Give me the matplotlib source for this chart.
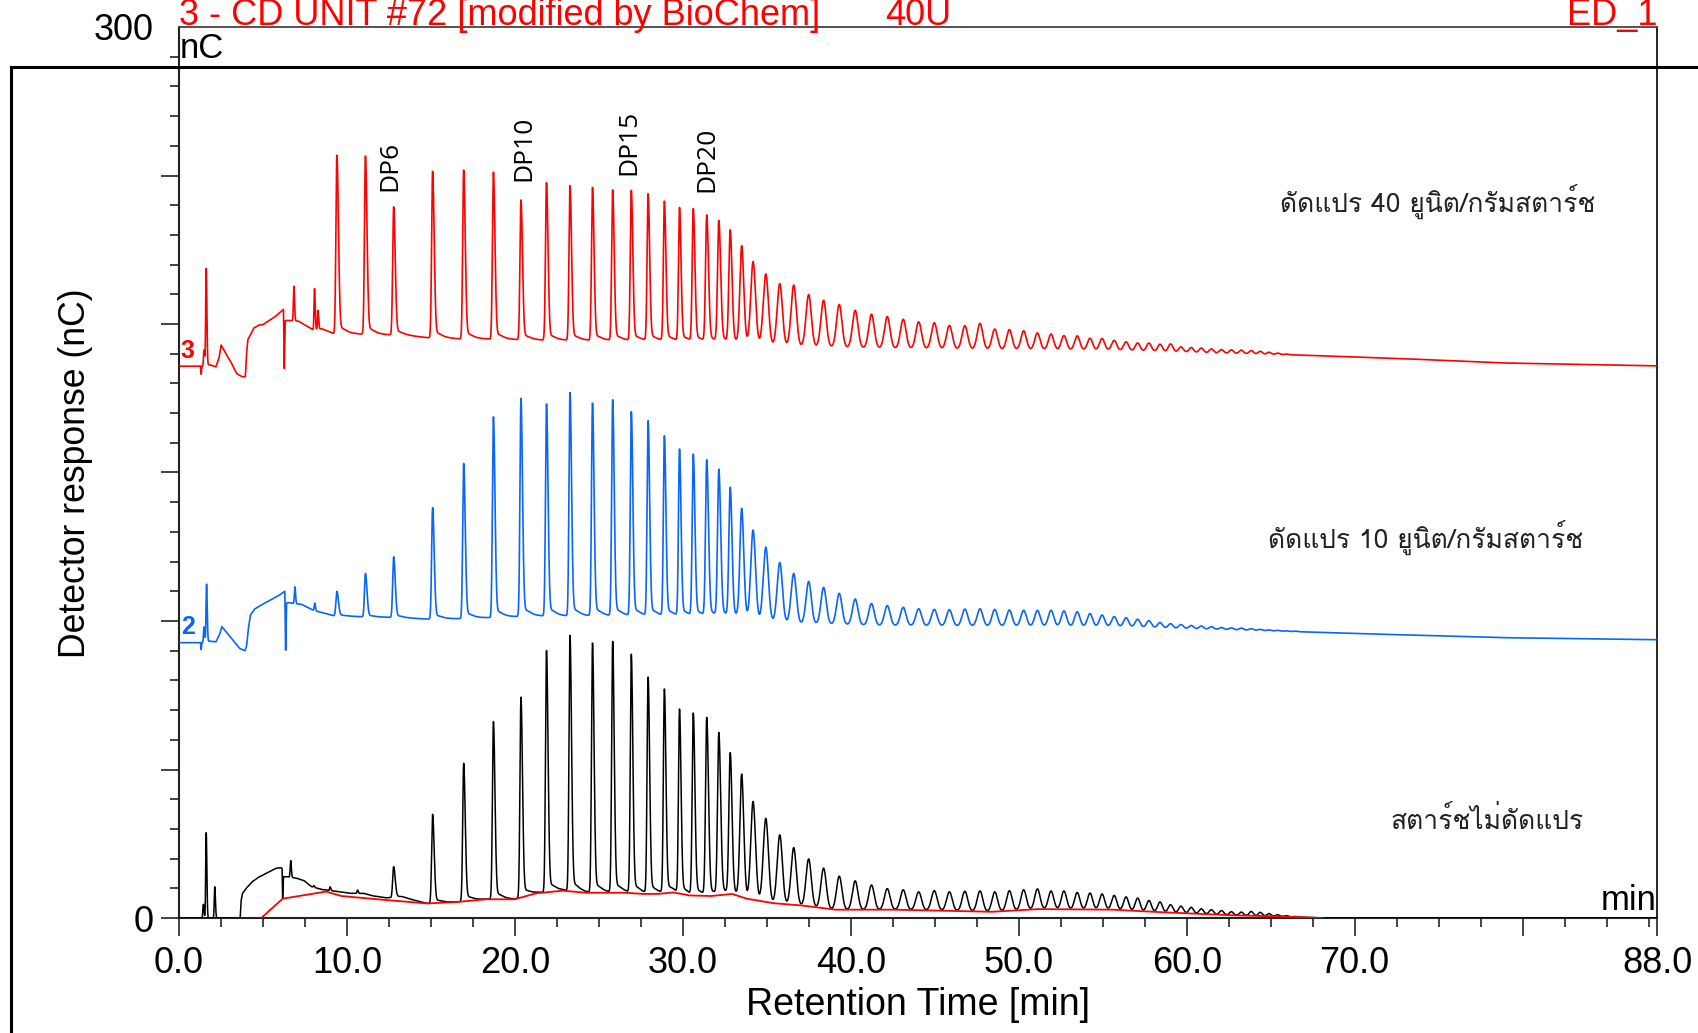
import numpy as np
import matplotlib
matplotlib.use('Agg')
import matplotlib.pyplot as plt
from matplotlib import font_manager
from matplotlib.ft2font import FT2Font
from matplotlib.lines import Line2D
from matplotlib.ticker import FixedLocator, MultipleLocator

plt.rcParams['font.family'] = ['Liberation Sans', 'DejaVu Sans']

# retention times of the DP series (min), shared by all three runs
DP_RT = [9.40, 11.10, 12.78, 15.10, 16.95, 18.72, 20.36, 21.88, 23.28, 24.62,
         25.82, 26.93, 27.93, 28.90, 29.80, 30.62, 31.42, 32.14, 32.82, 33.50,
         34.18, 34.94, 35.77, 36.60, 37.49, 38.38, 39.31, 40.26, 41.23, 42.17,
         43.12, 44.04, 44.97, 45.87, 46.79, 47.69, 48.57, 49.44, 50.29, 51.11,
         51.92, 52.69, 53.48, 54.24, 54.96, 55.68, 56.39, 57.08, 57.75, 58.41,
         59.04, 59.66, 60.27, 60.87, 61.47, 62.07, 62.66, 63.25, 63.84, 64.38,
         64.90, 65.42, 65.94, 66.45]

# apex values (nC) of the DP peaks, nan = no peak
NATIVE_DP = [np.nan, np.nan, 17.3, 34.9, 52.1, 66.1, 74.3, 90.0, 95.0, 92.4,
             92.9, 88.5, 80.7, 76.7, 69.9, 68.5, 67.0, 61.8, 55.0, 48.0,
             39.0, 33.5, 28.0, 23.7, 19.9, 16.8, 14.1, 12.5, 11.1, 9.9,
             9.5, 8.8, 9.2, 8.8, 9.0, 9.1, 8.8, 9.2, 9.5, 9.8,
             9.1, 9.1, 8.6, 8.4, 8.1, 7.6, 7.1, 6.7, 5.9, 5.4,
             4.5, 4.0, 3.6, 3.1, 2.8, 2.5, 2.1, 2.0, 2.2, 1.9,
             1.5, 1.1, 0.8, 0.5]
U10_DP = [110.0, 116.0, 121.6, 138.2, 153.0, 168.7, 174.9, 173.0, 176.8, 173.2,
          174.3, 170.2, 167.1, 162.0, 157.5, 155.7, 153.8, 150.5, 144.4, 137.5,
          130.4, 124.8, 119.7, 116.0, 113.3, 111.3, 109.3, 107.4, 105.9, 105.2,
          104.6, 104.1, 103.9, 103.8, 104.0, 104.1, 103.9, 103.7, 103.6, 103.6,
          103.6, 103.4, 103.1, 102.5, 102.0, 101.5, 101.1, 100.6, 100.1, 99.5,
          99.1, 98.8, 98.5, 98.3, 98.1, 97.8, 97.7, 97.6, 97.4, 97.2,
          97.0, 96.85, 96.7, 96.6]
U40_DP = [256.8, 256.5, 239.4, 251.4, 251.8, 251.1, 241.7, 247.5, 246.5, 245.9,
          245.0, 244.8, 243.6, 241.1, 238.9, 238.5, 236.3, 234.4, 231.2, 226.0,
          220.8, 216.8, 213.6, 213.1, 209.9, 208.0, 206.6, 204.6, 203.3, 202.5,
          201.6, 200.7, 200.4, 199.5, 199.4, 200.2, 198.3, 198.1, 197.7, 197.0,
          196.6, 196.1, 196.0, 195.2, 195.1, 194.5, 194.0, 193.6, 193.6, 193.2,
          193.3, 192.3, 192.1, 191.9, 191.6, 191.4, 191.3, 191.2, 191.1, 190.8,
          190.5, 190.2, 189.9, 189.6]

# early narrow peaks (time, apex)
NATIVE_SPIKE_T = [1.45, 1.62, 2.13, 6.65, 8.04, 9.00, 10.63]
NATIVE_SPIKE_V = [4.6, 28.7, 10.5, 19.3, 10.9, 10.5, 9.4]
U10_SPIKE_T = [1.49, 1.64, 6.90, 8.08]
U10_SPIKE_V = [98.0, 112.4, 111.5, 106.0]
U40_SPIKE_T = [1.49, 1.62, 6.84, 8.07, 8.28]
U40_SPIKE_V = [191.2, 218.7, 212.7, 211.9, 204.6]

# baselines (time, nC)
NATIVE_BASE_T = [0, 3.64, 3.70, 3.78, 4.0, 4.36, 4.7, 5.1, 5.5, 5.8, 6.1, 6.14, 6.17,
                 6.22, 6.45, 7.0, 7.44, 7.87, 8.5, 9.35, 10.2, 11.0, 11.5, 12.3, 13.3,
                 14.0, 14.78, 16.58, 18.28, 19.98, 21.26, 22.85, 24.23, 26.57, 27.64,
                 28.49, 29.44, 30.4, 31.67, 32.93, 33.8, 35.38, 37.1, 39.1, 42.6, 48.4,
                 51.2, 55.6, 58.7, 62.8, 65.1, 68.1, 88]
NATIVE_BASE_V = [0, 0, 6.0, 8.3, 10.0, 12.2, 13.6, 14.8, 15.9, 16.8, 16.9, 16.5, 6.6,
                 13.9, 13.9, 13.4, 12.6, 10.6, 9.6, 9.0, 8.3, 8.3, 7.5, 6.8, 7.0,
                 6.0, 4.9, 5.4, 6.3, 6.3, 8.3, 9.2, 8.5, 8.5, 8.1,
                 8.1, 8.6, 7.6, 7.4, 8.1, 6.5, 5.0, 4.2, 2.8, 2.8, 2.1,
                 3.0, 2.8, 1.9, 0.9, 0.6, 0, 0]
U10_BASE_T = [0, 1.28, 1.32, 1.36, 1.8, 2.2, 2.42, 2.55, 2.75, 3.0, 3.3, 3.6, 3.93,
              4.02, 4.12, 4.25, 4.5, 4.78, 5.53, 6.0, 6.3, 6.35, 6.4, 6.45, 7.3, 8.0,
              9.2, 11.0, 12.7, 15.0, 17.0, 19.0, 21.0, 24.0, 28.0, 31.0, 33.5, 34.3,
              37.0, 41.6, 46.0, 52.0, 56.5, 59.5, 64.0, 65.5, 70.0, 78.7, 88.0]
U10_BASE_V = [92.7, 92.7, 90.4, 92.7, 93.2, 93.0, 95.5, 98.1, 96.8, 95.0, 93.0, 90.8, 90.0,
              91.5, 97.0, 102.0, 104.0, 105.0, 107.3, 108.8, 110.0, 90.2, 106.0, 106.2, 105.6, 103.6,
              101.8, 101.4, 101.2, 100.6, 100.8, 101.2, 101.6, 101.6, 101.6, 101.5, 101.4, 100.3,
              99.2, 98.5, 98.3, 98.3, 98.1, 97.5, 96.9, 96.6, 95.8, 94.4, 93.7]
U40_BASE_T = [0, 1.28, 1.32, 1.36, 1.8, 2.2, 2.38, 2.51, 2.79, 3.08, 3.43, 3.77, 3.95,
              4.02, 4.1, 4.45, 4.75, 5.0, 5.71, 6.22, 6.27, 6.32, 6.4, 7.1, 8.0, 8.5,
              9.2, 11.0, 12.5, 13.7, 14.8, 16.6, 18.5, 20.0, 22.0, 26.0, 30.0, 33.5,
              35.4, 38.4, 43.0, 49.1, 55.2, 61.2, 65.8, 68.0, 73.0, 78.7, 88.0]
U40_BASE_V = [185.8, 185.8, 183.1, 185.8, 186.3, 185.6, 188.5, 192.9, 190.0, 187.3, 183.3, 182.2, 182.3,
              190.0, 194.7, 198.6, 199.6, 199.8, 202.4, 204.9, 185.0, 201.0, 201.2, 201.0, 198.0, 198.4,
              196.8, 196.5, 196.3, 196.0, 195.4, 195.0, 194.9, 194.7, 194.5, 194.4, 194.2, 193.8,
              192.9, 192.3, 191.7, 191.4, 191.2, 190.3, 189.7, 189.3, 188.3, 186.9, 185.9]

# integration baseline drawn under the native starch run
INTEG_T = [4.9, 6.17, 8.76, 9.67, 12.22, 14.78, 16.58, 18.28, 19.98, 21.26, 22.85, 24.23,
           26.57, 27.64, 28.49, 29.44, 30.4, 31.67, 32.93, 33.8, 35.38, 37.1, 39.1, 42.6,
           48.4, 51.2, 55.6, 58.7, 62.8, 65.1, 68.1]
INTEG_V = [0, 6.5, 8.9, 7.4, 6.1, 4.9, 5.4, 6.3, 6.3, 8.3, 9.2, 8.5,
           8.5, 8.1, 8.1, 8.6, 7.6, 7.4, 8.1, 6.5, 5.0, 4.2, 2.8, 2.8,
           2.1, 3.0, 2.8, 1.9, 0.9, 0.6, 0]

# peak width vs retention time
SIG_T = [0, 30, 33, 34.5, 45, 55, 66]
SIG_L = [0.055, 0.06, 0.08, 0.15, 0.17, 0.15, 0.11]
SPIKE_SIGMA = 0.03

t = np.linspace(0, 88, 17601)


def add_peak(y, rt, height, sl, sr, tail):
    d = t - rt
    g = np.where(d < 0, np.exp(-0.5 * (d / sl) ** 2), np.exp(-0.5 * (d / sr) ** 2))
    dp = np.clip(d, 0, None)
    tl = tail * np.exp(-dp / 0.35) * (1 - np.exp(-0.5 * (dp / (2 * sr)) ** 2))
    return y + height * (g + tl)


def chromatogram(base_t, base_v, dp_v, spike_t, spike_v):
    y = np.interp(t, base_t, base_v)
    for rt, apex in zip(DP_RT, dp_v):
        if not np.isfinite(apex):
            continue
        h = apex - np.interp(rt, base_t, base_v)
        sl = np.interp(rt, SIG_T, SIG_L)
        sr = sl * np.interp(rt, [0, 32, 34.5], [1.7, 1.5, 1.0])
        tail = np.interp(rt, [0, 32, 34.5], [0.1, 0.08, 0.0])
        y = add_peak(y, rt, h, sl, sr, tail)
    for rt, apex in zip(spike_t, spike_v):
        h = apex - np.interp(rt, base_t, base_v)
        y = add_peak(y, rt, h, SPIKE_SIGMA, SPIKE_SIGMA * 1.3, 0.0)
    return y


def thai_family():
    seen = set()
    for entry in font_manager.fontManager.ttflist:
        if entry.name in seen:
            continue
        seen.add(entry.name)
        try:
            if 0x0E14 in FT2Font(entry.fname).get_charmap():
                return entry.name
        except Exception:
            continue
    return 'DejaVu Sans'


native = chromatogram(NATIVE_BASE_T, NATIVE_BASE_V, NATIVE_DP, NATIVE_SPIKE_T, NATIVE_SPIKE_V)
u10 = chromatogram(U10_BASE_T, U10_BASE_V, U10_DP, U10_SPIKE_T, U10_SPIKE_V)
u40 = chromatogram(U40_BASE_T, U40_BASE_V, U40_DP, U40_SPIKE_T, U40_SPIKE_V)

W, H = 1698, 1033
fig = plt.figure(figsize=(W / 100, H / 100), dpi=100)
ax = fig.add_axes([179 / W, 1 - 918 / H, (1657 - 179) / W, (918 - 27) / H])

ax.plot(t, native, color='black', lw=1.1, zorder=3)
ax.plot(INTEG_T, INTEG_V, color='#ff0000', lw=1.3, zorder=4)
ax.plot(t, u10, color='#0a64ff', lw=1.2, zorder=3)
ax.plot(t, u40, color='#ff0000', lw=1.2, zorder=3)

ax.set_xlim(0, 88)
ax.set_ylim(0, 300)

ax.xaxis.set_major_locator(FixedLocator([0, 10, 20, 30, 40, 50, 60, 70, 80, 88]))
ax.set_xticklabels(['0.0', '10.0', '20.0', '30.0', '40.0', '50.0', '60.0', '70.0', '', '88.0'])
ax.xaxis.set_minor_locator(MultipleLocator(2.5))
ax.yaxis.set_major_locator(FixedLocator([0, 50, 100, 150, 200, 250, 300]))
ax.set_yticklabels(['0', '', '', '', '', '', '300'])
ax.yaxis.set_minor_locator(MultipleLocator(10))
ax.yaxis.get_major_ticks()[-1].tick1line.set_visible(False)

ax.tick_params(axis='both', which='major', direction='out', length=13, width=1.2,
               color='#222222', labelsize=26)
ax.tick_params(axis='both', which='minor', direction='out', length=6.5, width=1.2,
               color='#222222')
ax.tick_params(axis='x', which='major', pad=7)
ax.tick_params(axis='y', which='major', pad=5)

for side in ['left', 'bottom']:
    ax.spines[side].set_linewidth(1.5)
    ax.spines[side].set_color('#222222')
ax.spines['right'].set_linewidth(1.2)
ax.spines['top'].set_linewidth(1.3)
ax.spines['top'].set_color('#444444')

# run numbers at the start of the traces
ax.text(0.1, 191, '3', color='#ff0000', fontsize=18, fontweight='bold', ha='left', va='center')
ax.text(0.1, 98, '2', color='#0a64ff', fontsize=18, fontweight='bold', ha='left', va='center')

# DP markers
dp_labels = ['DP6', 'DP10', 'DP15', 'DP20']
dp_x = [12.57, 20.55, 26.8, 31.45]
dp_y = [244.7, 248.1, 250.1, 244.4]
for lab, x, y in zip(dp_labels, dp_x, dp_y):
    ax.text(x, y, lab, rotation=90, ha='center', va='bottom', fontsize=19,
            family=['Open Sans', 'DejaVu Sans'], color='black')

# sample names
thai = [thai_family(), 'DejaVu Sans']
fig.text(1595 / W, 1 - 201 / H, 'ดัดแปร 40 ยูนิต/กรัมสตาร์ช', ha='right', va='center',
         fontsize=19, family=thai, color='#222222')
fig.text(1583 / W, 1 - 537 / H, 'ดัดแปร 10 ยูนิต/กรัมสตาร์ช', ha='right', va='center',
         fontsize=19, family=thai, color='#222222')
fig.text(1584 / W, 1 - 820 / H, 'สตาร์ชไม่ดัดแปร', ha='right', va='center',
         fontsize=19, family=thai, color='#222222')

# axis titles and units
fig.text(918 / W, 1 - 1005 / H, 'Retention Time [min]', ha='center', va='center', fontsize=27)
fig.text(76 / W, 1 - 473 / H, 'Detector response (nC)', ha='center', va='center',
         rotation=90, fontsize=25.7)
fig.text(180 / W, 1 - 58 / H, 'nC', ha='left', va='baseline', fontsize=25)
fig.text(1657 / W, 1 - 900 / H, 'min', ha='right', va='center', fontsize=25)

# header line
hy = 1 - 25 / H
fig.text(179 / W, hy, '3 - CD UNIT #72 [modified by BioChem]', color='#ff0000',
         fontsize=26, ha='left', va='baseline')
fig.text(885 / W, hy, '40U', color='#ff0000', fontsize=26, ha='left', va='baseline')
fig.text(1657 / W, hy, 'ED_1', color='#ff0000', fontsize=26, ha='right', va='baseline')

# outer frame
fy = 1 - 67 / H
fx = 11 / W
fig.add_artist(Line2D([fx, 1.0], [fy, fy], transform=fig.transFigure, color='black', lw=2.2))
fig.add_artist(Line2D([fx, fx], [0, fy], transform=fig.transFigure, color='black', lw=2.2))

fig.savefig('out.png', dpi=100, facecolor='white')
